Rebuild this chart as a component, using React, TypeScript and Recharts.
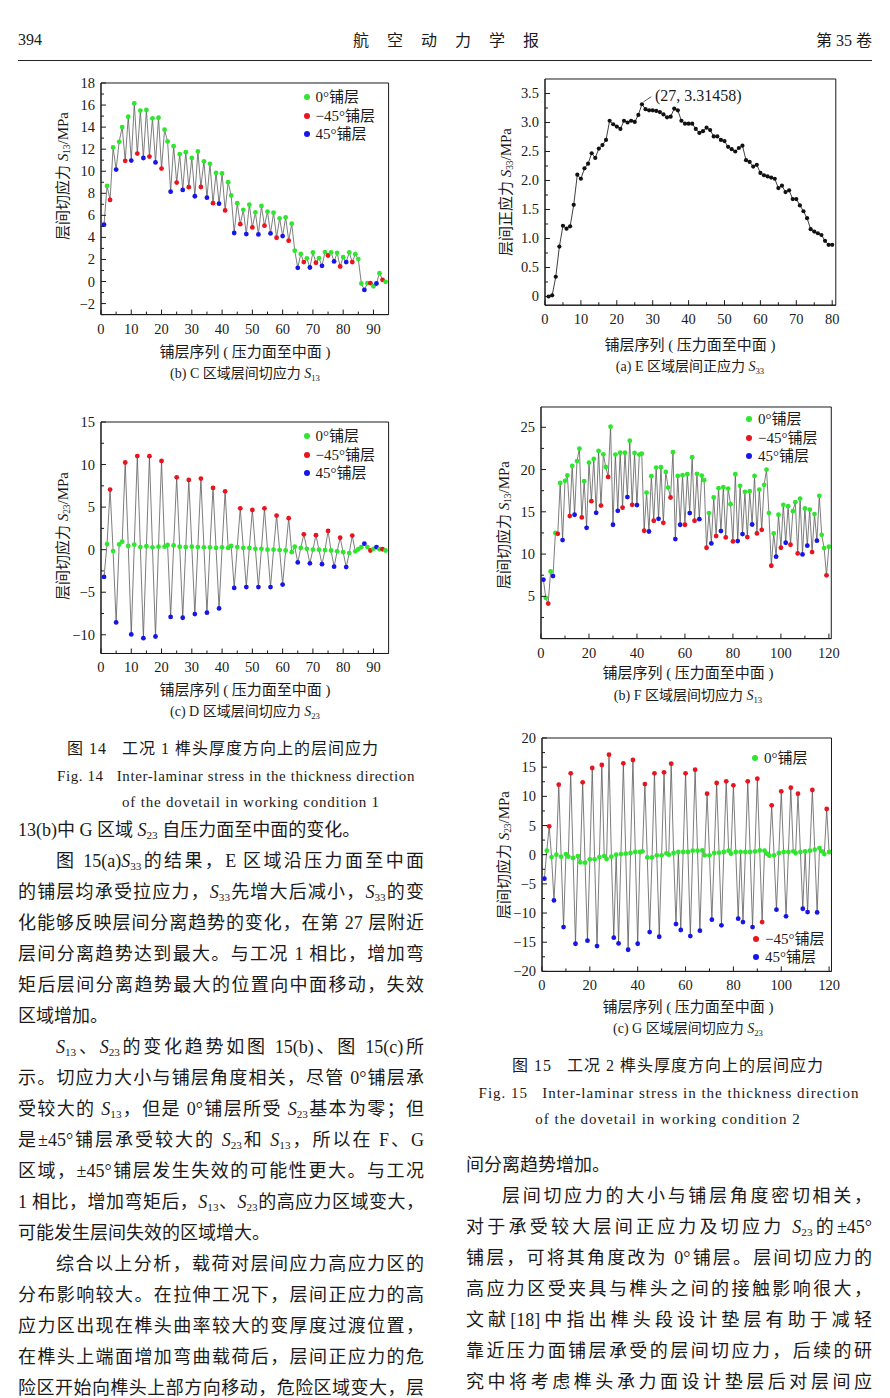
import React from "react";
import { LineChart, Line, XAxis, YAxis, ReferenceArea, ReferenceLine } from "recharts";

// ply angle of each layer: G = 0°, R = -45°, B = 45°
const PLY_COND1 =
  "BGRGBGGRGB" + "GRGBGRGBGR" + "GGBGRGBGRG" + "BGRGBGRGBG" + "RGGBGRGBGR" +
  "GBGRGBGRGB" + "GRGGBGRGBG" + "RGBGRGBGRG" + "BGRGGGBGRG" + "BGRG";
const PLY_COND2 =
  "BGRGBGRGBG" + "GRGBGGRGBG" + "RGBGRGGRGB" + "GBGRGBGRGB" + "GGRGBGRGBG" +
  "RGGRGBGBGR" + "GBGRGBGGRG" + "BGRGBGRGGR" + "GBGBGRGBGR" + "GRGGGRGBGR" +
  "GBGRGGRGBG" + "BGRGBGGGRG";

// Fig.14 (b) C zone S13, MPa
const s13C = [
  5.15, 8.67, 7.4, 12.15, 10.15, 12.67, 14.0, 10.94, 14.94, 10.97,
  16.15, 11.6, 15.5, 11.2, 15.55, 11.33, 14.8, 10.8, 14.85, 10.24,
  13.76, 12.7, 8.15, 12.27, 8.97, 11.55, 8.3, 11.73, 8.55, 11.2,
  7.73, 11.8, 8.57, 10.9, 7.6, 10.67, 7.1, 9.85, 7.06, 9.8,
  6.45, 9.0, 7.8, 4.4, 7.1, 5.2, 6.5, 4.3, 6.97, 4.9,
  6.27, 4.27, 6.85, 5.06, 6.33, 4.36, 6.24, 3.97, 5.73, 4.12,
  5.82, 3.7, 5.24, 2.8, 1.24, 2.5, 1.76, 2.1, 1.27, 2.64,
  1.7, 2.12, 1.42, 2.67, 2.36, 2.64, 1.82, 2.6, 1.36, 2.2,
  1.76, 2.64, 1.76, 2.48, 2.03, -0.18, -0.76, -0.15, -0.15, -0.43,
  -0.18, 0.76, 0.15, -0.03,
];

// Fig.14 (c) D zone S23
const s23D = [
  -3.2, 0.66, 7.06, -0.16, -8.55, 0.62, 0.94, 10.24, 0.43, -9.96,
  0.59, 11.0, 0.3, -10.4, 0.4, 10.98, 0.27, -10.2, 0.35, 10.43,
  0.35, 0.55, -7.9, 0.5, 8.5, 0.35, -8.0, 0.3, 8.19, 0.35,
  -7.57, 0.3, 8.35, 0.27, -7.4, 0.27, 7.25, 0.2, -6.9, 0.27,
  6.86, 0.2, 0.43, -4.5, 0.3, 4.86, 0.2, -4.4, 0.2, 4.66,
  0.1, -4.4, 0.1, 4.86, 0.0, -4.4, 0.0, 4.0, -0.05, -4.1,
  -0.1, 3.7, -0.3, 0.35, -1.5, 0.2, 1.8, 0.1, -1.6, 0.0,
  1.7, 0.0, -1.7, -0.05, 2.2, -0.1, -2.0, -0.2, 1.4, -0.3,
  -2.05, -0.4, 1.65, -0.2, 0.05, 0.3, 0.7, 0.3, -0.1, 0.1,
  0.3, 0.05, 0.05, -0.1,
];

// Fig.15 (a) E zone S33
const s33E = [
  0.0, 0.02, 0.34, 0.86, 1.22, 1.17, 1.21, 1.58, 2.1, 2.03,
  2.21, 2.29, 2.47, 2.39, 2.55, 2.61, 2.7, 3.03, 2.97, 2.93,
  2.89, 3.03, 3.0, 3.03, 3.01, 3.13, 3.31458, 3.23, 3.21, 3.21,
  3.2, 3.18, 3.14, 3.09, 3.1, 3.24, 3.21, 3.03, 2.98, 2.98,
  2.98, 2.89, 2.82, 2.85, 2.91, 2.87, 2.76, 2.76, 2.7, 2.68,
  2.58, 2.54, 2.5, 2.56, 2.6, 2.35, 2.32, 2.24, 2.27, 2.13,
  2.09, 2.07, 2.05, 2.03, 1.87, 1.91, 1.8, 1.83, 1.68, 1.68,
  1.57, 1.47, 1.35, 1.16, 1.12, 1.09, 1.06, 0.96, 0.89, 0.89,
];

// Fig.15 (b) F zone S13
const s13F = [
  6.97, 4.81, 4.14, 7.95, 7.4, 12.5, 12.4, 18.42, 11.66, 18.66,
  19.3, 14.5, 20.43, 14.65, 21.0, 22.47, 14.33, 18.62, 13.1, 20.82,
  16.26, 21.26, 14.88, 22.2, 15.74, 21.8, 20.3, 19.13, 25.07, 13.47,
  21.77, 15.12, 22.0, 15.5, 22.0, 16.74, 23.42, 15.83, 21.97, 15.8,
  21.77, 21.88, 12.76, 17.28, 12.67, 19.21, 13.94, 20.23, 14.17, 20.28,
  13.7, 19.72, 17.87, 16.69, 22.05, 11.78, 19.25, 13.47, 19.33, 13.47,
  19.45, 14.85, 21.46, 13.94, 19.49, 14.13, 19.29, 18.74, 10.75, 14.85,
  11.26, 16.69, 12.13, 17.8, 12.72, 17.92, 11.97, 17.75, 15.9, 11.5,
  19.45, 11.54, 18.07, 12.37, 17.36, 12.01, 17.44, 13.5, 19.25, 12.44,
  17.63, 12.87, 18.19, 19.99, 14.85, 8.62, 12.44, 9.69, 14.65, 10.75,
  15.83, 11.34, 15.67, 11.1, 15.08, 16.14, 10.08, 16.57, 9.96, 15.4,
  10.99, 15.27, 10.24, 14.73, 11.58, 16.89, 12.28, 10.71, 7.48, 10.87,
];

// Fig.15 (c) G zone S23
const s23G = [
  -4.11, 0.69, 4.86, -0.4, -7.83, 0.0, 12.0, -0.34, -12.4, 0.1,
  -0.34, 13.94, -0.57, -15.26, -0.23, -1.3, 12.4, -1.37, -14.74, -0.8,
  14.86, -0.8, -15.66, -0.4, 15.37, -0.23, -0.74, 17.14, -0.34, -14.23,
  0.0, -15.2, 0.1, 15.66, 0.17, -16.29, 0.29, 16.23, 0.46, -15.26,
  0.46, 0.57, 12.11, -0.46, -13.26, -0.46, 13.94, -0.1, -14.06, -0.1,
  14.11, 0.23, 0.0, 15.6, 0.29, -11.89, 0.46, -12.91, 0.46, 13.94,
  0.46, -13.94, 0.69, 14.57, 0.69, -13.03, 0.74, -0.11, 10.46, -0.11,
  -11.14, 0.29, 12.29, 0.34, -12.11, 0.46, 12.57, 0.69, 0.17, 11.89,
  0.46, -10.97, 0.46, -11.54, 0.46, 12.57, 0.46, -12.4, 0.57, 13.03,
  0.74, -11.54, 0.69, 0.17, -0.17, 8.46, -0.11, -9.43, 0.29, 10.86,
  0.46, -10.57, 0.46, 11.49, 0.57, 0.29, 10.46, 0.46, -9.26, 0.57,
  -9.83, 0.69, 11.09, 0.86, -9.89, 1.14, 0.57, 0.11, 7.83, 0.46,
];

// axis ticks
const xMajorC1 = [0, 10, 20, 30, 40, 50, 60, 70, 80, 90];
const xMinorC1 = [5, 15, 25, 35, 45, 55, 65, 75, 85];
const yMajorC = [-2, 0, 2, 4, 6, 8, 10, 12, 14, 16, 18];
const yMinorC = [-3, -1, 1, 3, 5, 7, 9, 11, 13, 15, 17];
const yMajorD = [-10, -5, 0, 5, 10, 15];
const yMinorD = [-7.5, -2.5, 2.5, 7.5, 12.5];
const xMajorE = [0, 10, 20, 30, 40, 50, 60, 70, 80];
const xMinorE = [5, 15, 25, 35, 45, 55, 65, 75];
const yMajorE = [0, 0.5, 1.0, 1.5, 2.0, 2.5, 3.0, 3.5];
const yMinorE = [0.25, 0.75, 1.25, 1.75, 2.25, 2.75, 3.25];
const xMajorC2 = [0, 20, 40, 60, 80, 100, 120];
const xMinorC2 = [10, 30, 50, 70, 90, 110];
const yMajorF = [5, 10, 15, 20, 25];
const yMinorF = [2.5, 7.5, 12.5, 17.5, 22.5];
const yMajorG = [-20, -15, -10, -5, 0, 5, 10, 15, 20];
const yMinorG = [-17.5, -12.5, -7.5, -2.5, 2.5, 7.5, 12.5, 17.5];

const PLY_COLOR: Record<string, string> = { G: "#2ee62e", R: "#e8141e", B: "#1616e8" };
const SERIF = "'Liberation Serif', 'Noto Sans CJK SC', serif";
const INK = "#1a1a1a";

const toRows = (vals: number[], plies: string) =>
  vals.map((v, i) => ({ layer: i + 1, v, ply: plies[i] || "G" }));

const intFmt = (v: number) => (v < 0 ? "\u2212" + Math.abs(v) : String(v));
const decFmt = (v: number) => (v === 0 ? "0" : v.toFixed(1));

type Box = { l: number; t: number; w: number; h: number };

function Panel(props: {
  data: { layer: number; v: number; ply: string }[];
  box: Box;
  xDomain: [number, number];
  xMajor: number[];
  xMinor: number[];
  yDomain: [number, number];
  yMajor: number[];
  yMinor: number[];
  fmt: (v: number) => string;
  colored: boolean;
  children?: React.ReactNode;
}) {
  const { data, box, xDomain, xMajor, xMinor, yDomain, yMajor, yMinor, fmt, colored } = props;
  const YW = 50;
  const XH = 30;
  const MT = 10;
  const MR = 10;
  const xTicks = [...xMajor, ...xMinor].sort((a, b) => a - b);
  const yTicks = [...yMajor, ...yMinor].sort((a, b) => a - b);
  const isMajor = (list: number[], v: number) => list.some((m) => Math.abs(m - v) < 1e-6);

  return (
    <div style={{ position: "absolute", left: box.l - YW, top: box.t - MT }}>
      <LineChart
        width={box.w + YW + MR}
        height={box.h + MT + XH}
        data={data}
        margin={{ top: MT, right: MR, bottom: 0, left: 0 }}
      >
        <XAxis
          dataKey="layer"
          type="number"
          domain={xDomain}
          ticks={xTicks}
          interval={0}
          allowDataOverflow
          height={XH}
          stroke={INK}
          tickLine={false}
          tickSize={0}
          tickMargin={0}
          tick={(p: any) => {
            const major = isMajor(xMajor, p.payload.value);
            return (
              <g>
                <line x1={p.x} x2={p.x} y1={p.y} y2={p.y - (major ? 5 : 3)} stroke={INK} />
                {major && (
                  <text x={p.x} y={p.y + 19} textAnchor="middle" fontSize={14.5} fontFamily={SERIF} fill={INK}>
                    {p.payload.value}
                  </text>
                )}
              </g>
            );
          }}
        />
        <YAxis
          type="number"
          domain={yDomain}
          ticks={yTicks}
          interval={0}
          allowDataOverflow
          width={YW}
          stroke={INK}
          tickLine={false}
          tickSize={0}
          tickMargin={0}
          tick={(p: any) => {
            const major = isMajor(yMajor, p.payload.value);
            return (
              <g>
                <line x1={p.x} x2={p.x + (major ? 5 : 3)} y1={p.y} y2={p.y} stroke={INK} />
                {major && (
                  <text x={p.x - 6} y={p.y + 5} textAnchor="end" fontSize={14.5} fontFamily={SERIF} fill={INK}>
                    {fmt(p.payload.value)}
                  </text>
                )}
              </g>
            );
          }}
        />
        <ReferenceArea
          x1={xDomain[0]}
          x2={xDomain[1]}
          y1={yDomain[0]}
          y2={yDomain[1]}
          fill="none"
          fillOpacity={0}
          stroke={INK}
          strokeWidth={1}
          ifOverflow="visible"
        />
        {props.children}
        <Line
          type="linear"
          dataKey="v"
          stroke={colored ? "#5c5c5c" : "#2a2a2a"}
          strokeWidth={colored ? 0.8 : 0.9}
          activeDot={false}
          isAnimationActive={false}
          dot={(p: any) => (
            <circle
              key={p.index}
              cx={p.cx}
              cy={p.cy}
              r={colored ? 2.4 : 2.1}
              fill={colored ? PLY_COLOR[p.payload.ply] : "#111"}
            />
          )}
        />
      </LineChart>
    </div>
  );
}

// S with subscript
function S({ n }: { n: string }) {
  return (
    <span>
      <i>S</i>
      <span style={{ fontSize: "0.62em", verticalAlign: "-0.28em" }}>{n}</span>
    </span>
  );
}

function rich(s: string) {
  const parts = s.split(/S_(\d+)/);
  return parts.map((p, i) => (i % 2 === 1 ? <S key={i} n={p} /> : <React.Fragment key={i}>{p}</React.Fragment>));
}

function Txt(props: {
  x: number;
  y: number;
  size?: number;
  spacing?: number;
  anchor?: "start" | "middle" | "end";
  rotate?: boolean;
  children: React.ReactNode;
}) {
  const { x, y, size = 15, anchor = "start", rotate, spacing = 0 } = props;
  const tx = anchor === "middle" ? "-50%" : anchor === "end" ? "-100%" : "0";
  return (
    <div
      style={{
        position: "absolute",
        left: x,
        top: y,
        fontSize: size,
        fontFamily: SERIF,
        color: INK,
        whiteSpace: "nowrap",
        lineHeight: 1,
        letterSpacing: spacing,
        transform: rotate ? "translate(-50%,-50%) rotate(-90deg)" : `translate(${tx},-50%)`,
      }}
    >
      {props.children}
    </div>
  );
}

function LegendItem({ x, y, color, label }: { x: number; y: number; color: string; label: string }) {
  return (
    <>
      <div
        style={{
          position: "absolute",
          left: x - 3,
          top: y - 3,
          width: 6,
          height: 6,
          borderRadius: 3,
          background: color,
        }}
      />
      <Txt x={x + 9} y={y} size={15}>
        {label}
      </Txt>
    </>
  );
}

function BodyLine({ x, y, w, text, justify }: { x: number; y: number; w: number; text: string; justify: boolean }) {
  return (
    <div
      lang="zh"
      style={{
        position: "absolute",
        left: x,
        top: y - 15.5,
        width: w,
        height: 31,
        lineHeight: "31px",
        fontSize: 18,
        fontFamily: SERIF,
        color: INK,
        textAlign: justify ? "justify" : "left",
        textAlignLast: justify ? "justify" : "left",
        overflow: "hidden",
      }}
    >
      {rich(text)}
    </div>
  );
}

const leftText: [string, boolean, boolean][] = [
  ["13(b)中 G 区域 S_23 自压力面至中面的变化。", false, false],
  ["图 15(a)S_33的结果，E 区域沿压力面至中面", true, true],
  ["的铺层均承受拉应力，S_33先增大后减小，S_33的变", true, false],
  ["化能够反映层间分离趋势的变化，在第 27 层附近", true, false],
  ["层间分离趋势达到最大。与工况 1 相比，增加弯", true, false],
  ["矩后层间分离趋势最大的位置向中面移动，失效", true, false],
  ["区域增加。", false, false],
  ["S_13、S_23的变化趋势如图 15(b)、图 15(c)所", true, true],
  ["示。切应力大小与铺层角度相关，尽管 0°铺层承", true, false],
  ["受较大的 S_13，但是 0°铺层所受 S_23基本为零；但", true, false],
  ["是±45°铺层承受较大的 S_23和 S_13，所以在 F、G", true, false],
  ["区域，±45°铺层发生失效的可能性更大。与工况", true, false],
  ["1 相比，增加弯矩后，S_13、S_23的高应力区域变大，", true, false],
  ["可能发生层间失效的区域增大。", false, false],
  ["综合以上分析，载荷对层间应力高应力区的", true, true],
  ["分布影响较大。在拉伸工况下，层间正应力的高", true, false],
  ["应力区出现在榫头曲率较大的变厚度过渡位置，", true, false],
  ["在榫头上端面增加弯曲载荷后，层间正应力的危", true, false],
  ["险区开始向榫头上部方向移动，危险区域变大，层", true, false],
];

const rightText: [string, boolean, boolean][] = [
  ["间分离趋势增加。", false, false],
  ["层间切应力的大小与铺层角度密切相关，", true, true],
  ["对于承受较大层间正应力及切应力 S_23的±45°", true, false],
  ["铺层，可将其角度改为 0°铺层。层间切应力的", true, false],
  ["高应力区受夹具与榫头之间的接触影响很大，", true, false],
  ["文献[18]中指出榫头段设计垫层有助于减轻", true, false],
  ["靠近压力面铺层承受的层间切应力，后续的研", true, false],
  ["究中将考虑榫头承力面设计垫层后对层间应", true, false],
];

const LINE_STEP = 31.05;

export default function App() {
  const dataC = toRows(s13C, PLY_COND1);
  const dataD = toRows(s23D, PLY_COND1);
  const dataE = toRows(s33E, "");
  const dataF = toRows(s13F, PLY_COND2);
  const dataG = toRows(s23G, PLY_COND2);
  const peak = s33E.reduce((m, v) => Math.max(m, v), -Infinity);
  const peakLayer = s33E.indexOf(peak) + 1;
  const xTitle = "铺层序列 ( 压力面至中面 )";

  return (
    <div
      style={{
        position: "absolute",
        left: 0,
        top: 0,
        width: 890,
        height: 1398,
        overflow: "hidden",
        background: "#fff",
        fontFamily: SERIF,
      }}
    >
      {/* running header */}
      <Txt x={18} y={40} size={16}>394</Txt>
      <Txt x={446} y={41} size={16} anchor="middle">
        <span style={{ letterSpacing: 18, marginRight: -18 }}>航空动力学报</span>
      </Txt>
      <Txt x={872} y={41} size={16} anchor="end">第 35 卷</Txt>
      <div style={{ position: "absolute", left: 18, top: 60, width: 854, borderTop: "1.2px solid #222" }} />

      {/* Fig.14 (b) */}
      <Panel
        data={dataC}
        box={{ l: 100.7, t: 82.7, w: 287.6, h: 231.6 }}
        xDomain={[0, 95]}
        xMajor={xMajorC1}
        xMinor={xMinorC1}
        yDomain={[-3, 18]}
        yMajor={yMajorC}
        yMinor={yMinorC}
        fmt={intFmt}
        colored
      />
      <Txt x={64} y={176} rotate>
        层间切应力 <S n="13" />/MPa
      </Txt>
      <LegendItem x={306.5} y={97} color={PLY_COLOR.G} label="0°铺层" />
      <LegendItem x={306.5} y={115.5} color={PLY_COLOR.R} label="−45°铺层" />
      <LegendItem x={306.5} y={133.5} color={PLY_COLOR.B} label="45°铺层" />
      <Txt x={245} y={352} anchor="middle">{xTitle}</Txt>
      <Txt x={245} y={375} size={14} anchor="middle">
        (b) C 区域层间切应力 <S n="13" />
      </Txt>

      {/* Fig.14 (c) */}
      <Panel
        data={dataD}
        box={{ l: 100.7, t: 421.8, w: 287.6, h: 231.5 }}
        xDomain={[0, 95]}
        xMajor={xMajorC1}
        xMinor={xMinorC1}
        yDomain={[-12.2, 15]}
        yMajor={yMajorD}
        yMinor={yMinorD}
        fmt={intFmt}
        colored
      />
      <Txt x={64} y={536} rotate>
        层间切应力 <S n="23" />/MPa
      </Txt>
      <LegendItem x={306.5} y={436} color={PLY_COLOR.G} label="0°铺层" />
      <LegendItem x={306.5} y={454.5} color={PLY_COLOR.R} label="−45°铺层" />
      <LegendItem x={306.5} y={472.5} color={PLY_COLOR.B} label="45°铺层" />
      <Txt x={245} y={690} anchor="middle">{xTitle}</Txt>
      <Txt x={245} y={713} size={14} anchor="middle">
        (c) D 区域层间切应力 <S n="23" />
      </Txt>

      <Txt x={223} y={749} size={16} spacing={1} anchor="middle">图 14&nbsp;&nbsp;&nbsp;工况 1 榫头厚度方向上的层间应力</Txt>
      <Txt x={236} y={776} spacing={0.6} anchor="middle">Fig. 14&nbsp;&nbsp;&nbsp;Inter-laminar stress in the thickness direction</Txt>
      <Txt x={251} y={802} spacing={0.8} anchor="middle">of the dovetail in working condition 1</Txt>

      {/* Fig.15 (a) */}
      <Panel
        data={dataE}
        box={{ l: 545.3, t: 79.2, w: 290.8, h: 226.2 }}
        xDomain={[0, 81]}
        xMajor={xMajorE}
        xMinor={xMinorE}
        yDomain={[-0.15, 3.75]}
        yMajor={yMajorE}
        yMinor={yMinorE}
        fmt={decFmt}
        colored={false}
      >
        <ReferenceLine
          segment={[
            { x: peakLayer + 0.4, y: peak + 0.04 },
            { x: peakLayer + 2.6, y: peak + 0.13 },
          ]}
          stroke="#333"
          strokeWidth={0.8}
          ifOverflow="visible"
        />
      </Panel>
      <Txt x={655} y={96} size={16}>({peakLayer}, {peak})</Txt>
      <Txt x={507} y={192} rotate>
        层间正应力 <S n="33" />/MPa
      </Txt>
      <Txt x={690} y={345} anchor="middle">{xTitle}</Txt>
      <Txt x={690} y={368} size={14} anchor="middle">
        (a) E 区域层间正应力 <S n="33" />
      </Txt>

      {/* Fig.15 (b) */}
      <Panel
        data={dataF}
        box={{ l: 540.7, t: 406.7, w: 290.3, h: 231.6 }}
        xDomain={[0, 121]}
        xMajor={xMajorC2}
        xMinor={xMinorC2}
        yDomain={[0, 27.4]}
        yMajor={yMajorF}
        yMinor={yMinorF}
        fmt={intFmt}
        colored
      />
      <Txt x={505} y={525} rotate>
        层间切应力 <S n="13" />/MPa
      </Txt>
      <LegendItem x={749} y={419} color={PLY_COLOR.G} label="0°铺层" />
      <LegendItem x={749} y={438} color={PLY_COLOR.R} label="−45°铺层" />
      <LegendItem x={749} y={456} color={PLY_COLOR.B} label="45°铺层" />
      <Txt x={688} y={673} anchor="middle">{xTitle}</Txt>
      <Txt x={688} y={697} size={14} anchor="middle">
        (b) F 区域层间切应力 <S n="13" />
      </Txt>

      {/* Fig.15 (c) */}
      <Panel
        data={dataG}
        box={{ l: 541.5, t: 738.3, w: 289.5, h: 233.4 }}
        xDomain={[0, 121]}
        xMajor={xMajorC2}
        xMinor={xMinorC2}
        yDomain={[-20, 20]}
        yMajor={yMajorG}
        yMinor={yMinorG}
        fmt={intFmt}
        colored
      />
      <Txt x={505} y={855} rotate>
        层间切应力 <S n="23" />/MPa
      </Txt>
      <LegendItem x={755} y={757.5} color={PLY_COLOR.G} label="0°铺层" />
      <LegendItem x={756} y={939} color={PLY_COLOR.R} label="−45°铺层" />
      <LegendItem x={756} y={956.5} color={PLY_COLOR.B} label="45°铺层" />
      <Txt x={688} y={1007} anchor="middle">{xTitle}</Txt>
      <Txt x={688} y={1030} size={14} anchor="middle">
        (c) G 区域层间切应力 <S n="23" />
      </Txt>

      <Txt x={668} y={1066} size={16} spacing={1} anchor="middle">图 15&nbsp;&nbsp;&nbsp;工况 2 榫头厚度方向上的层间应力</Txt>
      <Txt x={669} y={1093} spacing={1} anchor="middle">Fig. 15&nbsp;&nbsp;&nbsp;Inter-laminar stress in the thickness direction</Txt>
      <Txt x={668} y={1119} spacing={1} anchor="middle">of the dovetail in working condition 2</Txt>

      {/* body text */}
      {leftText.map(([t, j, indent], i) => (
        <BodyLine key={"l" + i} x={indent ? 56 : 18} y={830 + i * LINE_STEP} w={indent ? 368 : 406} text={t} justify={j} />
      ))}
      {rightText.map(([t, j, indent], i) => (
        <BodyLine key={"r" + i} x={indent ? 502 : 466} y={1165 + i * LINE_STEP} w={indent ? 370 : 406} text={t} justify={j} />
      ))}
    </div>
  );
}
